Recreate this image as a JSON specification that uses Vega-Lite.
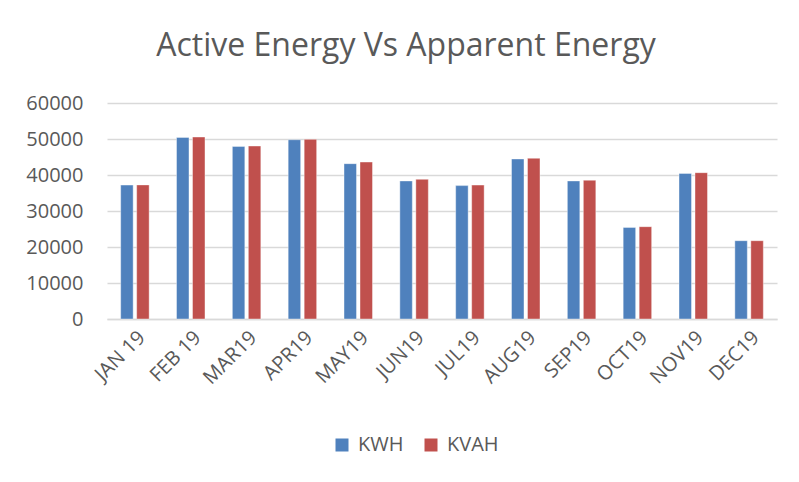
{
  "$schema": "https://vega.github.io/schema/vega-lite/v6.json",
  "autosize": "none",
  "width": 670,
  "height": 216,
  "padding": {"left": 107, "top": 103, "right": 22, "bottom": 163},
  "background": "white",
  "title": {
    "text": "Active Energy Vs Apparent Energy",
    "font": "Open Sans",
    "fontSize": 32,
    "fontWeight": "normal",
    "color": "#595959",
    "anchor": "middle",
    "offset": 30,
    "dx": -36
  },
  "data": {
    "values": [
      {"month": "JAN 19", "series": "KWH", "value": 37200},
      {"month": "JAN 19", "series": "KVAH", "value": 37250},
      {"month": "FEB 19", "series": "KWH", "value": 50450},
      {"month": "FEB 19", "series": "KVAH", "value": 50550},
      {"month": "MAR19", "series": "KWH", "value": 47950},
      {"month": "MAR19", "series": "KVAH", "value": 48050},
      {"month": "APR19", "series": "KWH", "value": 49800},
      {"month": "APR19", "series": "KVAH", "value": 49900},
      {"month": "MAY19", "series": "KWH", "value": 43150},
      {"month": "MAY19", "series": "KVAH", "value": 43600},
      {"month": "JUN19", "series": "KWH", "value": 38350},
      {"month": "JUN19", "series": "KVAH", "value": 38800},
      {"month": "JUL19", "series": "KWH", "value": 37050},
      {"month": "JUL19", "series": "KVAH", "value": 37200},
      {"month": "AUG19", "series": "KWH", "value": 44450},
      {"month": "AUG19", "series": "KVAH", "value": 44650},
      {"month": "SEP19", "series": "KWH", "value": 38350},
      {"month": "SEP19", "series": "KVAH", "value": 38550},
      {"month": "OCT19", "series": "KWH", "value": 25450},
      {"month": "OCT19", "series": "KVAH", "value": 25650},
      {"month": "NOV19", "series": "KWH", "value": 40450},
      {"month": "NOV19", "series": "KVAH", "value": 40650},
      {"month": "DEC19", "series": "KWH", "value": 21750},
      {"month": "DEC19", "series": "KVAH", "value": 21750}
    ]
  },
  "mark": {"type": "bar", "stroke": "#ffffff", "strokeWidth": 0.8, "strokeOpacity": 0.5},
  "encoding": {
    "x": {
      "field": "month",
      "type": "nominal",
      "sort": null,
      "title": null,
      "scale": {"paddingInner": 0.49, "paddingOuter": 0.245},
      "axis": {
        "labelAngle": -45,
        "labelFont": "Open Sans",
        "labelFontSize": 20,
        "labelColor": "#595959",
        "labelPadding": 8,
        "ticks": false,
        "domainColor": "#d9d9d9",
        "domainWidth": 1.5,
        "grid": false
      }
    },
    "xOffset": {
      "field": "series",
      "type": "nominal",
      "sort": ["KWH", "KVAH"],
      "scale": {"paddingInner": 0.22, "paddingOuter": 0}
    },
    "y": {
      "field": "value",
      "type": "quantitative",
      "title": null,
      "scale": {"domain": [0, 60000]},
      "axis": {
        "values": [0, 10000, 20000, 30000, 40000, 50000, 60000],
        "format": "d",
        "labelFont": "Open Sans",
        "labelFontSize": 20,
        "labelColor": "#595959",
        "labelPadding": 24,
        "ticks": false,
        "domain": false,
        "gridColor": "#d9d9d9",
        "gridWidth": 1.5
      }
    },
    "color": {
      "field": "series",
      "type": "nominal",
      "sort": ["KWH", "KVAH"],
      "scale": {"domain": ["KWH", "KVAH"], "range": ["#4F81BD", "#C0504D"]},
      "legend": {
        "title": null,
        "orient": "none",
        "legendX": 225,
        "legendY": 332,
        "direction": "horizontal",
        "symbolType": "square",
        "symbolSize": 169,
        "symbolStrokeWidth": 0,
        "labelFont": "Open Sans",
        "labelFontSize": 20,
        "labelColor": "#595959",
        "labelOffset": 6,
        "columnPadding": 17,
        "padding": 0
      }
    }
  },
  "config": {
    "view": {"stroke": null}
  }
}
